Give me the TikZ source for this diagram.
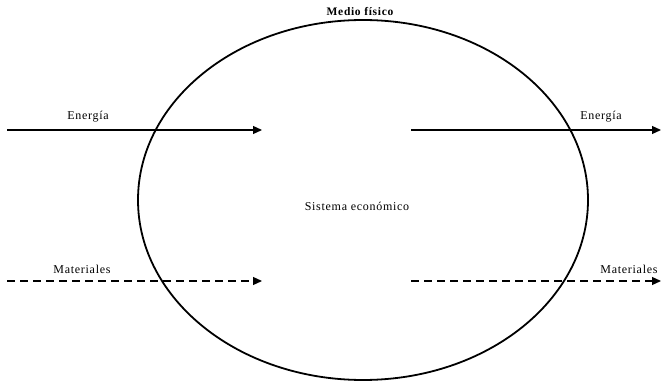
\documentclass[tikz,border=0pt]{standalone}
\usepackage{fontspec}
\setmainfont{Liberation Serif}
\newfontfamily\rotulo[LetterSpace=6]{Liberation Serif}
\usetikzlibrary{arrows.meta}

\begin{document}
\begin{tikzpicture}[x=1pt,y=-1pt,line width=1.2pt,>={Triangle[length=9pt,width=8pt]},
  flujo/.style={->},
  flujod/.style={->,dash pattern=on 8pt off 5pt},
  etiq/.style={font=\rotulo\fontsize{12}{14}\selectfont,inner sep=1pt}]
  \useasboundingbox (0,0) rectangle (661,382);
  % medio fisico
  \draw[line width=1.8pt] (363,200) ellipse (225 and 180);
  \node[etiq,font=\rotulo\fontsize{11.5}{14}\selectfont\bfseries] (medio) at (360,12) {Medio físico};
  \node[etiq] (sistema) at (357,206) {Sistema económico};
  % energia
  \coordinate (ea) at (7,130);
  \coordinate (eb) at (262,130);
  \coordinate (ec) at (411,130);
  \coordinate (ed) at (661,130);
  \draw[flujo] (ea) -- (eb);
  \draw[flujo] (ec) -- (ed);
  \node[etiq] (eizq) at (88,117) {Energía};
  \node[etiq] (eder) at (601,117) {Energía};
  % materiales
  \coordinate (ma) at (7,281);
  \coordinate (mb) at (262,281);
  \coordinate (mc) at (411,281);
  \coordinate (md) at (661,281);
  \draw[flujod] (ma) -- (mb);
  \draw[flujod] (mc) -- (md);
  \node[etiq] (mizq) at (82,269) {Materiales};
  \node[etiq] (mder) at (629,269) {Materiales};
\end{tikzpicture}
\end{document}
